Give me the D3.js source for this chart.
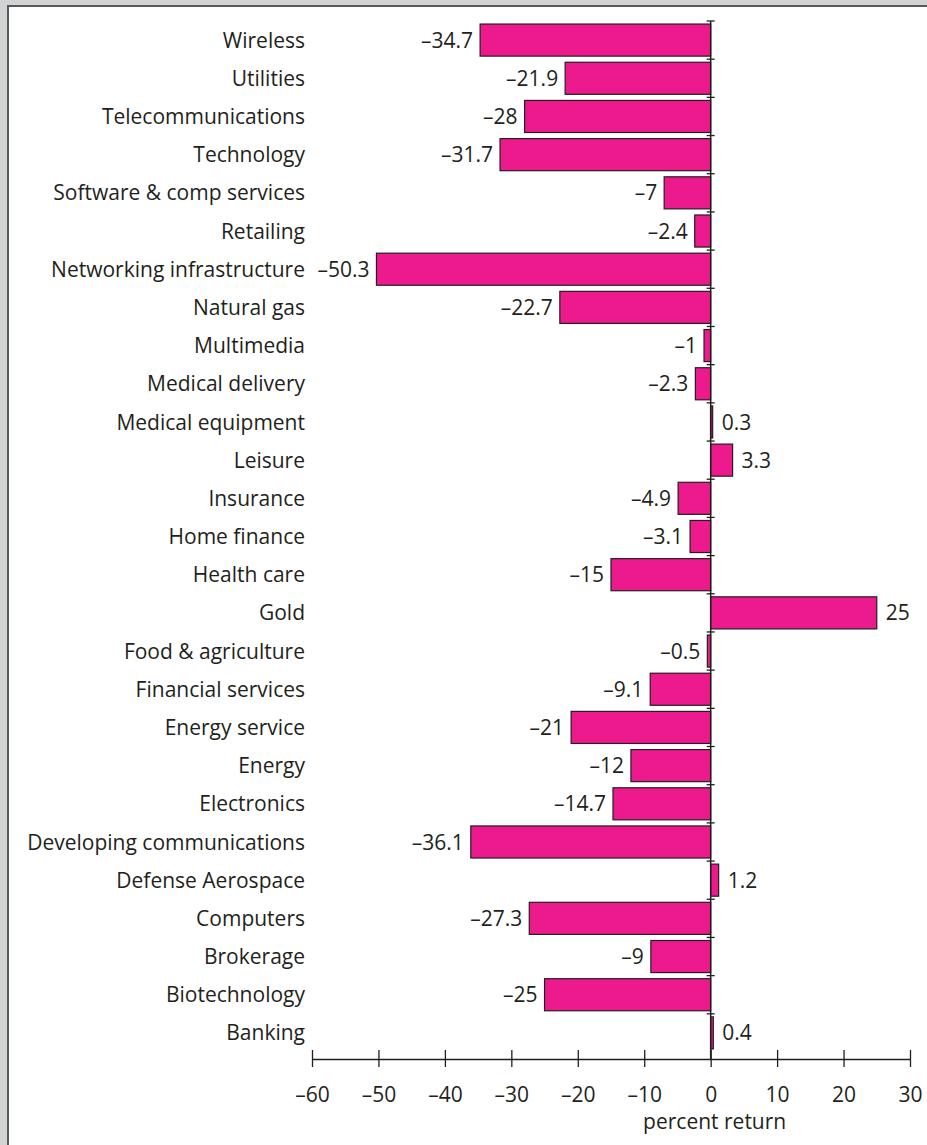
<!DOCTYPE html>
<html>
<head>
<meta charset="utf-8">
<script src="https://cdn.jsdelivr.net/npm/d3@7"></script>
<style>
  html, body { margin: 0; padding: 0; background: #d1d3d4; }
  svg { display: block; }
  text { font-family: "Open Sans", "Noto Sans", sans-serif; fill: #231f20; }
</style>
</head>
<body>
<script>
const categories = [
  "Wireless", "Utilities", "Telecommunications", "Technology",
  "Software & comp services", "Retailing", "Networking infrastructure",
  "Natural gas", "Multimedia", "Medical delivery", "Medical equipment",
  "Leisure", "Insurance", "Home finance", "Health care", "Gold",
  "Food & agriculture", "Financial services", "Energy service", "Energy",
  "Electronics", "Developing communications", "Defense Aerospace",
  "Computers", "Brokerage", "Biotechnology", "Banking"
];
const returns = [
  -34.7, -21.9, -28, -31.7,
  -7, -2.4, -50.3,
  -22.7, -1, -2.3, 0.3,
  3.3, -4.9, -3.1, -15, 25,
  -0.5, -9.1, -21, -12,
  -14.7, -36.1, 1.2,
  -27.3, -9, -25, 0.4
];
const xTicks = [-60, -50, -40, -30, -20, -10, 0, 10, 20, 30];
const xTitle = "percent return";

const W = 927, H = 1145;
const data = categories.map((c, i) => ({ c, v: returns[i] }));

const svg = d3.select("body").append("svg")
  .attr("width", W).attr("height", H);

// frame: gray margin, dark rule, white panel
svg.append("rect").attr("x", 0).attr("y", 0).attr("width", W).attr("height", H).attr("fill", "#d1d3d4");
svg.append("rect").attr("x", 7).attr("y", 5).attr("width", W - 7).attr("height", H - 5).attr("fill", "#58595b");
svg.append("rect").attr("x", 9).attr("y", 7).attr("width", W - 9).attr("height", H - 7).attr("fill", "#ffffff");

const x = d3.scaleLinear().domain([-60, 30]).range([312, 910]);
const y = d3.scaleBand().domain(categories).range([21, 1052])
  .paddingInner(0.16).paddingOuter(0.08);

const fmt = d => (d < 0 ? "\u2013" + Math.abs(d) : String(d));
const fontSize = 21;

// bars
svg.append("g").selectAll("rect").data(data).join("rect")
  .attr("x", d => x(Math.min(0, d.v)))
  .attr("y", d => y(d.c))
  .attr("width", d => Math.abs(x(d.v) - x(0)))
  .attr("height", y.bandwidth())
  .attr("fill", "#ec1a8c")
  .attr("stroke", "#231f20")
  .attr("stroke-width", 1.2);

// zero line with small ticks at category boundaries
const x0 = x(0);
const axisY = 1059;
svg.append("line")
  .attr("x1", x0).attr("x2", x0)
  .attr("y1", y.range()[0]).attr("y2", axisY)
  .attr("stroke", "#231f20").attr("stroke-width", 1.5);
const step = y.step();
svg.append("g").selectAll("line").data(categories).join("line")
  .attr("x1", x0 - 4).attr("x2", x0 + 4)
  .attr("y1", d => y(d) - step * y.paddingInner() / 2)
  .attr("y2", d => y(d) - step * y.paddingInner() / 2)
  .attr("stroke", "#231f20").attr("stroke-width", 1.3);

// category labels
svg.append("g").selectAll("text").data(data).join("text")
  .attr("x", 305)
  .attr("y", d => y(d.c) + y.bandwidth() / 2)
  .attr("dy", "0.36em")
  .attr("text-anchor", "end")
  .attr("font-size", fontSize)
  .text(d => d.c);

// value labels
svg.append("g").selectAll("text").data(data).join("text")
  .attr("x", d => d.v < 0 ? x(d.v) - 7 : x(d.v) + 9)
  .attr("y", d => y(d.c) + y.bandwidth() / 2)
  .attr("dy", "0.36em")
  .attr("text-anchor", d => d.v < 0 ? "end" : "start")
  .attr("font-size", fontSize)
  .text(d => fmt(d.v));

// x axis
const axis = d3.axisBottom(x).tickValues(xTicks).tickSizeInner(8).tickSizeOuter(0).tickFormat(fmt);
const ag = svg.append("g").attr("transform", `translate(0,${axisY})`).call(axis);
ag.select(".domain").attr("stroke", "#231f20").attr("stroke-width", 1.5);
ag.selectAll(".tick line").attr("y1", -9).attr("y2", 8).attr("stroke", "#231f20").attr("stroke-width", 1.3);
ag.selectAll(".tick text")
  .attr("y", 43).attr("dy", 0)
  .attr("font-size", fontSize)
  .attr("font-family", "\"Open Sans\", \"Noto Sans\", sans-serif")
  .attr("fill", "#231f20");

svg.append("text")
  .attr("x", x0 + 4).attr("y", 1129)
  .attr("text-anchor", "middle")
  .attr("font-size", fontSize)
  .text(xTitle);
</script>
</body>
</html>
